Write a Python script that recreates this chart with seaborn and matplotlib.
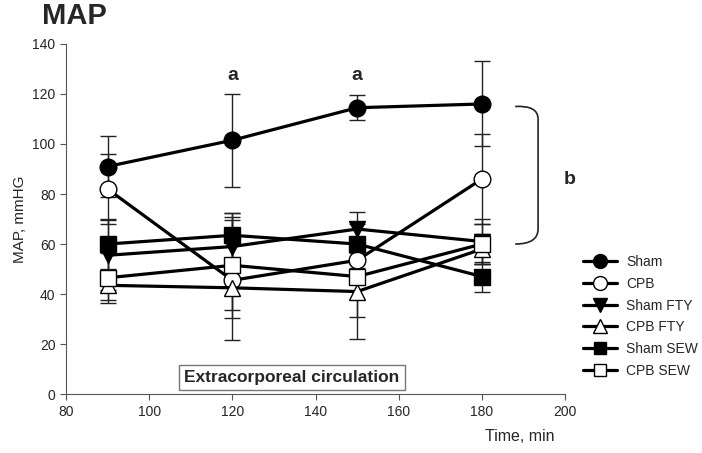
"""
MAP over time, reproduction of the reference chart
"""

import matplotlib.pyplot as plt
import matplotlib.path as mpath
import matplotlib.patches as mpatches
import seaborn as sns
import pandas as pd

# Data
times = [90, 120, 150, 180]

sham = [91, 101.5, 114.5, 116]
sham_err = [12, 18.5, 5, 17]

cpb = [82, 45.5, 53.5, 86]
cpb_err = [14, 24, 3, 18]

sham_fty = [55.5, 59, 66, 61]
sham_fty_err = [14, 12, 7, 9]

cpb_fty = [43.5, 42.5, 41, 58]
cpb_fty_err = [6, 9, 19, 6]

sham_sew = [60, 63.5, 60, 47]
sham_sew_err = [10, 9, 8, 6]

cpb_sew = [46.5, 51.5, 47, 60]
cpb_sew_err = [10, 21, 16, 8]

groups = ['Sham', 'CPB', 'Sham FTY', 'CPB FTY', 'Sham SEW', 'CPB SEW']
values = [sham, cpb, sham_fty, cpb_fty, sham_sew, cpb_sew]
errors = [sham_err, cpb_err, sham_fty_err, cpb_fty_err, sham_sew_err, cpb_sew_err]

markers = ['o', 'o', 'v', '^', 's', 's']
facecolors = ['black', 'white', 'black', 'white', 'black', 'white']
msizes = [12, 12, 12, 12, 11, 11]

df = pd.DataFrame({
    'Time': times * len(groups),
    'MAP': [v for vals in values for v in vals],
    'Err': [e for errs in errors for e in errs],
    'Group': [g for g in groups for _ in times],
})

sns.set_style('ticks')
plt.rcParams['font.family'] = ['Liberation Sans', 'DejaVu Sans']

fig = plt.figure(figsize=(7.02, 4.53), dpi=100)
ax = fig.add_axes([0.094, 0.130, 0.711, 0.773])

# Barres d'erreur d'abord, sous les courbes
for g in groups:
    sub = df[df['Group'] == g]
    ax.errorbar(sub['Time'], sub['MAP'], yerr=sub['Err'], fmt='none',
                ecolor='#222222', elinewidth=1, capsize=6, capthick=1, zorder=1)

handles = []
for i, g in enumerate(groups):
    sub = df[df['Group'] == g]
    sns.lineplot(data=sub, x='Time', y='MAP', ax=ax, color='black',
                 linewidth=2.3, marker=markers[i], markersize=msizes[i],
                 markerfacecolor=facecolors[i], markeredgecolor='black',
                 markeredgewidth=1, errorbar=None, zorder=2 + i)
    handles.append(plt.Line2D([], [], color='black', linewidth=2.3,
                              marker=markers[i], markersize=msizes[i] - 2,
                              markerfacecolor=facecolors[i],
                              markeredgecolor='black', markeredgewidth=1))

ax.set_xlim(80, 200)
ax.set_ylim(0, 140)
ax.set_xticks(range(80, 201, 20))
ax.set_yticks(range(0, 141, 20))
ax.tick_params(axis='both', labelsize=10, length=4, width=0.8, color='#555555')
for side in ['top', 'right']:
    ax.spines[side].set_visible(False)
for side in ['left', 'bottom']:
    ax.spines[side].set_color('#555555')
    ax.spines[side].set_linewidth(0.8)

ax.set_xlabel('')
ax.set_ylabel('MAP, mmHG', fontsize=11)
fig.text(0.79, 0.02, 'Time, min', fontsize=11.5, ha='right', va='bottom')

# Lettres de significativité
ax.text(120, 124, 'a', fontsize=14, fontweight='bold', ha='center', va='bottom')
ax.text(150, 124, 'a', fontsize=14, fontweight='bold', ha='center', va='bottom')
ax.text(201, 86, 'b', fontsize=14, fontweight='bold', ha='center', va='center',
        clip_on=False)

# Accolade à droite
Path = mpath.Path
brace = [
    (Path.MOVETO, (188, 115)),
    (Path.CURVE3, (193.5, 115.5)),
    (Path.CURVE3, (193.5, 110)),
    (Path.LINETO, (193.5, 66)),
    (Path.CURVE3, (193.5, 60)),
    (Path.CURVE3, (188, 60)),
]
codes, verts = zip(*brace)
ax.add_patch(mpatches.PathPatch(Path(verts, codes), fill=False,
                                edgecolor='#222222', linewidth=1.2,
                                clip_on=False))

# Encadré circulation extracorporelle
ax.text(134.3, 6.6, 'Extracorporeal circulation', fontsize=12.5, fontweight='bold',
        ha='center', va='center',
        bbox=dict(boxstyle='square,pad=0.3', facecolor='white',
                  edgecolor='#777777', linewidth=1))

fig.text(0.06, 0.965, 'MAP', fontsize=21, fontweight='bold', ha='left', va='center')

fig.legend(handles, groups, loc='upper left', bbox_to_anchor=(0.812, 0.464),
           frameon=False, fontsize=10, handlelength=2.45, labelspacing=0.55,
           handletextpad=0.7)

plt.savefig('out.png', dpi=100, facecolor='white')
plt.close()
